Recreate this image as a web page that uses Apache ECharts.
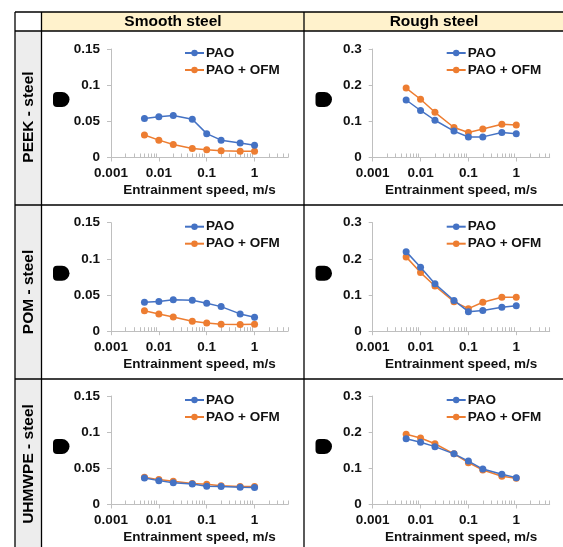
<!DOCTYPE html>
<html>
<head>
<meta charset="utf-8">
<script src="https://cdn.jsdelivr.net/npm/echarts@6/dist/echarts.min.js"></script>
<style>
html, body { margin: 0; padding: 0; background: #fff; }
#main { width: 563px; height: 547px; }
</style>
</head>
<body>
<div id="main"></div>
<script>
// entrainment speed, m/s
var speeds = [0.005, 0.01, 0.02, 0.05, 0.1, 0.2, 0.5, 1];
var xMajorTicks = [0.001, 0.01, 0.1, 1];

var colTitles = ['Smooth steel', 'Rough steel'];
var rowTitles = ['PEEK - steel', 'POM - steel', 'UHMWPE - steel'];
var seriesNames = ['PAO', 'PAO + OFM'];

// y axis max per column
var yMax = [0.15, 0.3];
var yStep = [0.05, 0.1];

// friction values, row by row
var peekSmoothPao = [0.054, 0.0565, 0.058, 0.053, 0.033, 0.024, 0.020, 0.017];
var peekSmoothOfm = [0.031, 0.024, 0.018, 0.0125, 0.0106, 0.0093, 0.0088, 0.0088];
var peekRoughPao = [0.159, 0.130, 0.103, 0.073, 0.0565, 0.057, 0.069, 0.066];
var peekRoughOfm = [0.192, 0.161, 0.125, 0.083, 0.069, 0.079, 0.092, 0.090];

var pomSmoothPao = [0.040, 0.041, 0.0436, 0.0427, 0.0385, 0.034, 0.0239, 0.0193];
var pomSmoothOfm = [0.0284, 0.0239, 0.0197, 0.0138, 0.0115, 0.0096, 0.0092, 0.0096];
var pomRoughPao = [0.220, 0.177, 0.131, 0.085, 0.054, 0.057, 0.066, 0.0706];
var pomRoughOfm = [0.2055, 0.162, 0.125, 0.0817, 0.0624, 0.080, 0.0936, 0.0936];

var uhmwSmoothPao = [0.0367, 0.033, 0.030, 0.0284, 0.0252, 0.0248, 0.0239, 0.0234];
var uhmwSmoothOfm = [0.0376, 0.0344, 0.032, 0.0289, 0.028, 0.026, 0.025, 0.025];
var uhmwRoughPao = [0.182, 0.172, 0.160, 0.140, 0.120, 0.098, 0.0835, 0.0743];
var uhmwRoughOfm = [0.194, 0.184, 0.168, 0.140, 0.1156, 0.0954, 0.078, 0.0725];

var panels = [
    [[peekSmoothPao, peekSmoothOfm], [peekRoughPao, peekRoughOfm]],
    [[pomSmoothPao, pomSmoothOfm], [pomRoughPao, pomRoughOfm]],
    [[uhmwSmoothPao, uhmwSmoothOfm], [uhmwRoughPao, uhmwRoughOfm]]
];

var colors = ['#4472C4', '#ED7D31'];
var FONT = '"Liberation Sans", Arial, sans-serif';
var AXIS_GREY = '#BFBFBF';

// layout
var plotTop = [49, 222.7, 396];
var plotLeft = [111, 372.7];
var plotW = 177, plotH = 108.5;

// minor log ticks 2..9 in every decade, up to the axis end at 5
var xMinorTicks = [];
xMajorTicks.forEach(function (d) {
    for (var k = 2; k <= 9; k++) {
        var v = +(k * d).toPrecision(6);
        if (v <= 5) xMinorTicks.push(v);
    }
});

function pairs(ys) {
    return ys.map(function (v, i) { return [speeds[i], v]; });
}

var grids = [], xAxes = [], yAxes = [], series = [], legends = [], graphics = [];

// table backgrounds
graphics.push({ type: 'rect', shape: { x: 41.5, y: 12, width: 530, height: 19 }, style: { fill: '#FFF2CC' }, silent: true, z: -10 });
graphics.push({ type: 'rect', shape: { x: 15, y: 31, width: 26.5, height: 530 }, style: { fill: '#EDEDED' }, silent: true, z: -10 });

var hLines = [12, 31, 205, 379];
hLines.forEach(function (y) {
    graphics.push({ type: 'line', shape: { x1: 15, y1: y, x2: 563, y2: y }, style: { stroke: '#000', lineWidth: 1.3 }, silent: true });
});
var vLines = [15, 41.5, 304];
vLines.forEach(function (x) {
    graphics.push({ type: 'line', shape: { x1: x, y1: 12, x2: x, y2: 547 }, style: { stroke: '#000', lineWidth: 1.3 }, silent: true });
});

// headers
var colCenters = [173, 434];
colTitles.forEach(function (t, i) {
    graphics.push({
        type: 'text', x: colCenters[i], y: 21.5, silent: true,
        style: { text: t, fill: '#000', font: 'bold 15.5px ' + FONT, textAlign: 'center', textVerticalAlign: 'middle' }
    });
});
var rowCenters = [117, 292, 464];
rowTitles.forEach(function (t, i) {
    graphics.push({
        type: 'text', x: 28.5, y: rowCenters[i], rotation: Math.PI / 2, silent: true,
        style: { text: t, fill: '#000', font: 'bold 15.5px ' + FONT, textAlign: 'center', textVerticalAlign: 'middle' }
    });
});

var idx = 0, xi = 0;
for (var r = 0; r < 3; r++) {
    for (var c = 0; c < 2; c++) {
        grids.push({ left: plotLeft[c], top: plotTop[r], width: plotW, height: plotH });
        xAxes.push({
            type: 'log', gridIndex: idx, min: 0.001, max: 5, logBase: 10, position: 'bottom',
            name: 'Entrainment speed, m/s', nameLocation: 'middle', nameGap: 26,
            nameTextStyle: { fontFamily: FONT, fontWeight: 'bold', fontSize: 13.5, color: '#111' },
            axisLine: { lineStyle: { color: AXIS_GREY, width: 1 } },
            axisTick: { show: true, length: 4, inside: false, customValues: xMajorTicks, lineStyle: { color: AXIS_GREY } },
            axisLabel: {
                fontFamily: FONT, fontWeight: 'bold', fontSize: 13.5, color: '#111', margin: 9,
                customValues: xMajorTicks,
                formatter: function (v) { return String(+v.toPrecision(6)); }
            },
            splitLine: { show: false }
        });
        // overlay axis carrying only the minor log ticks
        xAxes.push({
            type: 'log', gridIndex: idx, min: 0.001, max: 5, logBase: 10, position: 'bottom',
            axisLine: { show: false },
            axisTick: { show: true, length: 4, inside: true, customValues: xMinorTicks, lineStyle: { color: AXIS_GREY } },
            axisLabel: { show: false },
            splitLine: { show: false }
        });
        yAxes.push({
            type: 'value', gridIndex: idx, min: 0, max: yMax[c], interval: yStep[c],
            axisLine: { show: true, lineStyle: { color: AXIS_GREY, width: 1 } },
            axisTick: { show: true, length: 4, lineStyle: { color: AXIS_GREY } },
            axisLabel: { fontFamily: FONT, fontWeight: 'bold', fontSize: 13.5, color: '#111', margin: 11 },
            splitLine: { show: false }
        });
        var names = [];
        for (var s = 0; s < 2; s++) {
            var nm = seriesNames[s];
            series.push({
                type: 'line', name: nm, xAxisIndex: xi, yAxisIndex: idx,
                data: pairs(panels[r][c][s]),
                symbol: 'circle', symbolSize: 7,
                lineStyle: { color: colors[s], width: 1.5 },
                itemStyle: { color: colors[s] },
                z: 3 - s,
                animation: false
            });
            names.push(nm);
        }
        legends.push({
            orient: 'vertical', left: plotLeft[c] + 73, top: plotTop[r] - 3, padding: 0,
            itemWidth: 19, itemHeight: 8, itemGap: 3,
            data: names.map(function (n) { return { name: n }; }),
            textStyle: { fontFamily: FONT, fontWeight: 'bold', fontSize: 13.5, lineHeight: 14, color: '#111', padding: [0, 0, 0, -3] },
            selectedMode: false
        });
        // the blotted y axis symbol
        graphics.push({
            type: 'rect', silent: true,
            shape: { x: (c === 0 ? 53 : 315.5), y: plotTop[r] + 43, width: 16.5, height: 15, r: [4, 8, 8, 4] },
            style: { fill: '#000' }
        });
        idx++;
        xi += 2;
    }
}

var chart = echarts.init(document.getElementById('main'));
chart.setOption({
    animation: false,
    backgroundColor: '#fff',
    grid: grids,
    xAxis: xAxes,
    yAxis: yAxes,
    legend: legends,
    series: series,
    graphic: graphics
});
</script>
</body>
</html>
